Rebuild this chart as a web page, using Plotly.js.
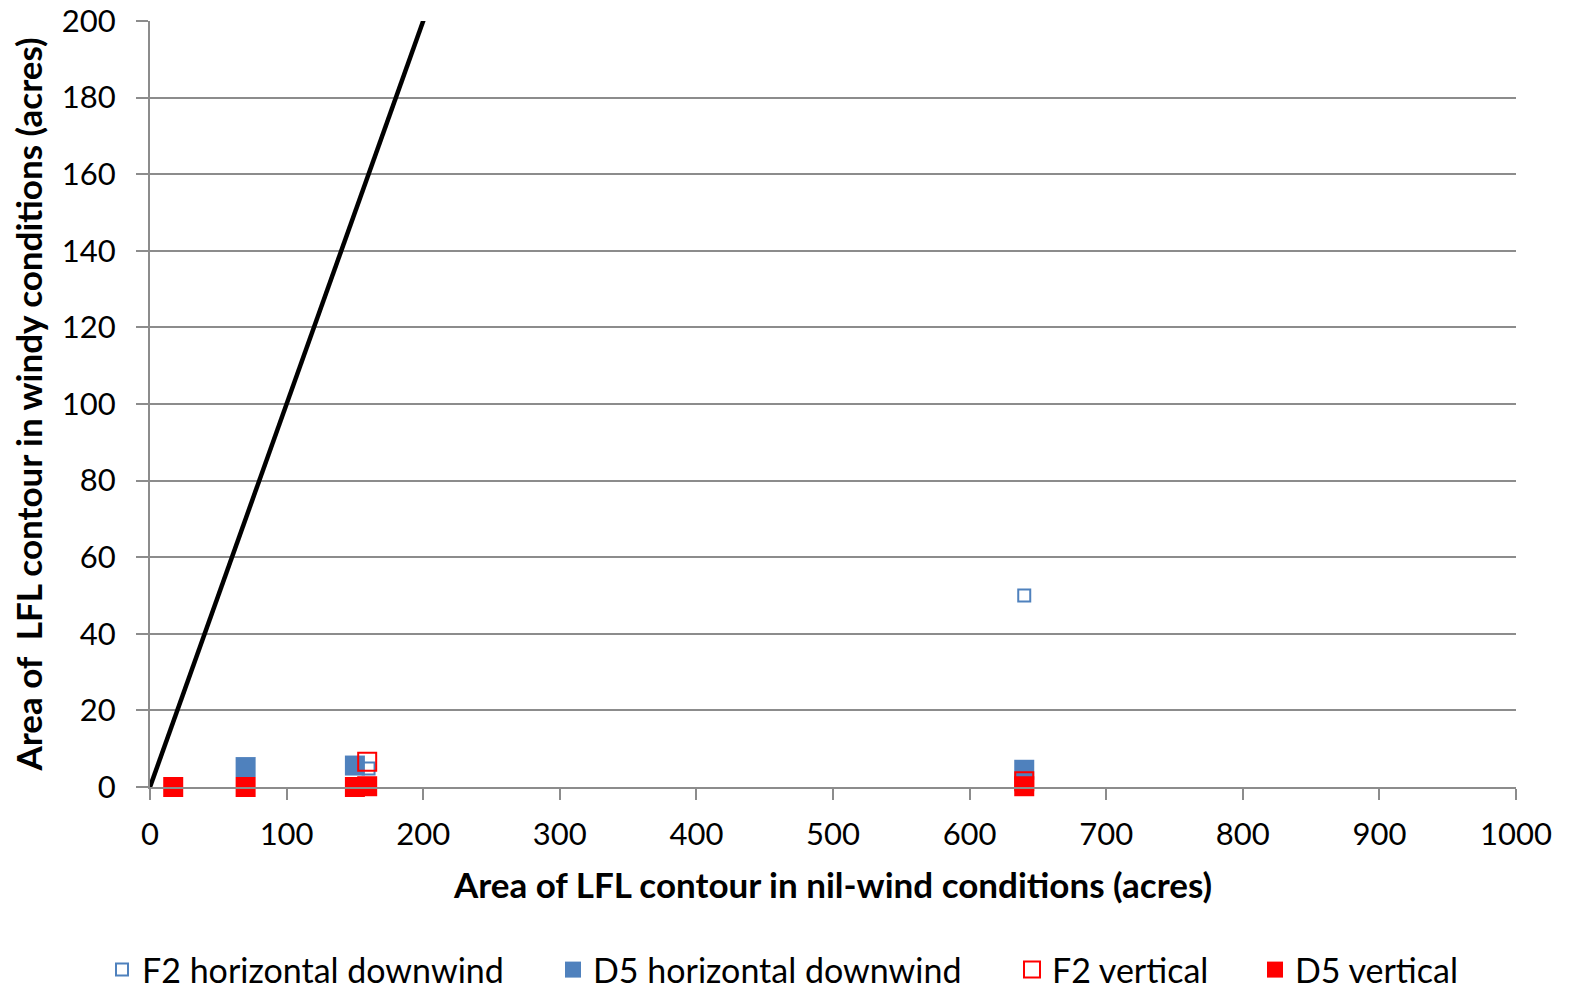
<!DOCTYPE html>
<html>
<head>
<meta charset="utf-8">
<script src="https://cdn.plot.ly/plotly-3.0.1.min.js"></script>
<style>html,body{margin:0;padding:0;background:#fff;}#chart{width:1575px;height:990px;}</style>
</head>
<body>
<div id="chart"></div>
<script>
const lineX = [0, 1000];
const lineY = [0, 1000];

const f2hX = [640, 160, 640];
const f2hY = [50, 4.8, 1.2];

const d5hX = [70, 150, 640];
const d5hY = [5.2, 5.6, 4.5];

const f2vX = [159, 640];
const f2vY = [6.6, 1.5];

const d5vX = [17, 70, 150, 159, 640];
const d5vY = [0, 0, 0, 0.2, 0.2];

const xTicks = [0,100,200,300,400,500,600,700,800,900,1000];
const yTicks = [0,20,40,60,80,100,120,140,160,180,200];

const blue = '#4f81bd';
const red = '#ff0000';

const W = 1575, H = 990;
const legY = 1 - 970 / H;
function legendAt(px) {
  return {orientation: 'h', x: px / W, xref: 'container', xanchor: 'left',
          y: legY, yref: 'container', yanchor: 'middle',
          font: {size: 34}, bgcolor: 'rgba(0,0,0,0)'};
}

const traces = [
  {x: lineX, y: lineY, mode: 'lines', line: {color: '#000', width: 4.5}, showlegend: false, hoverinfo: 'skip'},
  {x: f2hX, y: f2hY, mode: 'markers', name: 'F2 horizontal downwind', legend: 'legend', cliponaxis: false,
   marker: {symbol: 'square-open', size: 12, color: blue, line: {width: 2, color: blue}}},
  {x: d5hX, y: d5hY, mode: 'markers', name: 'D5 horizontal downwind', legend: 'legend2', cliponaxis: false,
   marker: {symbol: 'square', size: 20, color: blue}},
  {x: f2vX, y: f2vY, mode: 'markers', name: 'F2 vertical', legend: 'legend3', cliponaxis: false,
   marker: {symbol: 'square-open', size: 18, color: red, line: {width: 2, color: red}}},
  {x: d5vX, y: d5vY, mode: 'markers', name: 'D5 vertical', legend: 'legend4', cliponaxis: false,
   marker: {symbol: 'square', size: 20, color: red}}
];

const layout = {
  width: W, height: H,
  margin: {l: 150, r: 59, t: 21, b: 203},
  paper_bgcolor: '#fff', plot_bgcolor: '#fff',
  font: {family: 'Lato, "Open Sans", sans-serif', color: '#000', size: 31},
  xaxis: {
    range: [0, 1000], tickvals: xTicks, ticktext: xTicks.map(String),
    showgrid: false, zeroline: false, showline: true, linecolor: '#8c8c8c', linewidth: 2,
    ticks: 'outside', ticklen: 11, tickcolor: '#8c8c8c', tickwidth: 2,
    tickfont: {size: 31}, ticklabelstandoff: 8, automargin: false,
    title: {text: 'Area of LFL contour in nil-wind conditions (acres)', font: {size: 35, weight: 'bold'}, standoff: 22},
    fixedrange: true
  },
  yaxis: {
    range: [0, 200], tickvals: yTicks, ticktext: yTicks.map(String),
    showgrid: true, gridcolor: '#8c8c8c', gridwidth: 2, zeroline: false,
    showline: true, linecolor: '#8c8c8c', linewidth: 2,
    ticks: 'outside', ticklen: 12, tickcolor: '#8c8c8c', tickwidth: 2,
    tickfont: {size: 31}, ticklabelstandoff: 14, automargin: false,
    title: {text: 'Area of  LFL contour in windy conditions (acres)', font: {size: 35, weight: 'bold'}, standoff: 9},
    fixedrange: true
  },
  legend: legendAt(102),
  legend2: legendAt(553),
  legend3: legendAt(1012),
  legend4: legendAt(1255),
  showlegend: true
};

Plotly.newPlot('chart', traces, layout, {displayModeBar: false, staticPlot: true});
</script>
</body>
</html>
